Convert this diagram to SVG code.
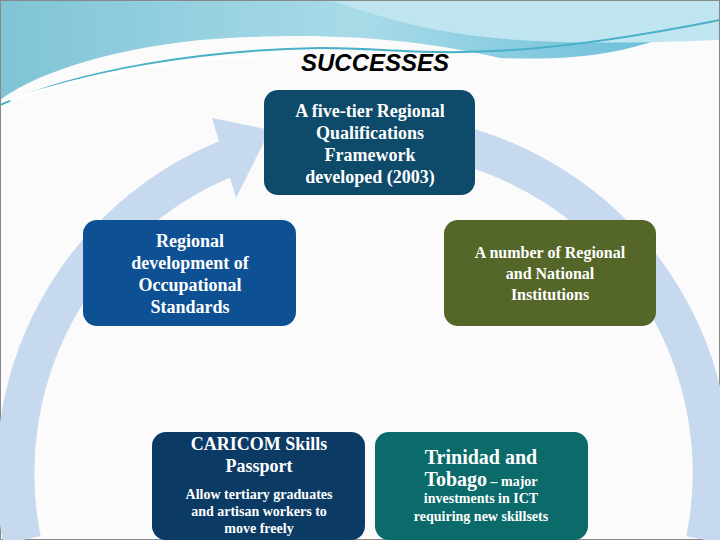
<svg xmlns="http://www.w3.org/2000/svg" width="720" height="540" viewBox="0 0 720 540">
<defs>
<linearGradient id="wave" x1="0" y1="0" x2="1" y2="0">
<stop offset="0" stop-color="#7fc4d6"/><stop offset="0.5" stop-color="#a8dbe8"/><stop offset="1" stop-color="#5fb8d6"/>
</linearGradient>
<style>
.t{font-family:"Liberation Serif",serif;fill:#fff;text-anchor:middle;font-weight:bold}
</style>
</defs>
<rect width="720" height="540" fill="#fbfbfb"/>
<path d="M0 0H720V10C640 60 560 60 500 58C420 40 330 30 200 40C120 48 40 70 0 100Z" fill="url(#wave)"/>
<path d="M330 0C420 30 480 50 720 40V0Z" fill="#bfe6f0"/>
<path d="M0 105C80 70 200 50 320 48C420 48 480 68 720 20" fill="none" stroke="#4ab0c8" stroke-width="2"/>
<path d="M10 100C100 70 200 55 300 55" fill="none" stroke="#ffffff" stroke-width="3"/>
<rect x="0.5" y="0.5" width="719" height="539" fill="none" stroke="#888"/>
<g id="ring" fill="none" stroke="#c6d9ee" stroke-width="38">
<path d="M22 540 A340 340 0 0 1 228 158"/>
<path d="M440 140 A340 340 0 0 1 705 540"/>
</g>
<polygon points="212,118 270,130 236,198" fill="#c6d9ee"/>
<text x="375" y="71" font-family="Liberation Sans,sans-serif" font-style="italic" font-weight="bold" font-size="24" text-anchor="middle" fill="#000">SUCCESSES</text>
<g id="n1"><rect x="264" y="90" width="211" height="105" rx="14" fill="#0e4a6a"/>
<text class="t" font-size="18"><tspan x="370" y="117">A five-tier Regional</tspan><tspan x="370" y="139">Qualifications</tspan><tspan x="370" y="161">Framework</tspan><tspan x="370" y="183">developed (2003)</tspan></text></g>
<g id="n2"><rect x="83" y="220" width="213" height="106" rx="14" fill="#0d5194"/>
<text class="t" font-size="18"><tspan x="190" y="247">Regional</tspan><tspan x="190" y="269">development of</tspan><tspan x="190" y="291">Occupational</tspan><tspan x="190" y="313">Standards</tspan></text></g>
<g id="n3"><rect x="444" y="220" width="212" height="106" rx="14" fill="#546628"/>
<text class="t" font-size="16"><tspan x="550" y="258">A number of Regional</tspan><tspan x="550" y="279">and National</tspan><tspan x="550" y="300">Institutions</tspan></text></g>
<g id="n4"><rect x="152" y="432" width="213" height="108" rx="14" fill="#0b3a64"/>
<text class="t" font-size="18"><tspan x="259" y="450">CARICOM Skills</tspan><tspan x="259" y="472">Passport</tspan></text>
<text class="t" font-size="14"><tspan x="259" y="499">Allow tertiary graduates</tspan><tspan x="259" y="516">and artisan workers to</tspan><tspan x="259" y="533">move freely</tspan></text></g>
<g id="n5"><rect x="375" y="432" width="213" height="108" rx="14" fill="#0b6a6a"/>
<text class="t"><tspan x="481" y="464" font-size="20">Trinidad and</tspan><tspan x="481" y="486"><tspan font-size="20">Tobago</tspan><tspan font-size="14"> – major</tspan></tspan><tspan x="481" y="503" font-size="14">investments in ICT</tspan><tspan x="481" y="521" font-size="14">requiring new skillsets</tspan></text></g>
</svg>
